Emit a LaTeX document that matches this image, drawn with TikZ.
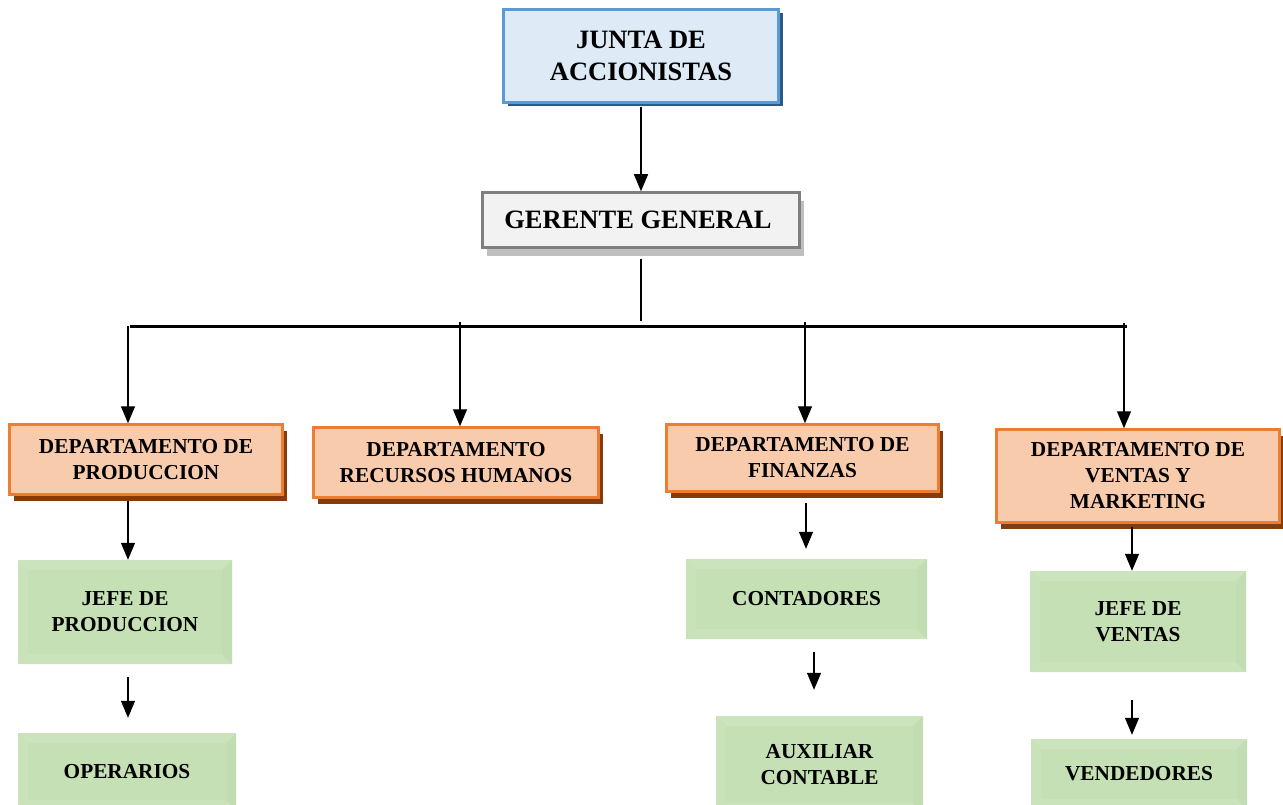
\documentclass[tikz,border=0pt]{standalone}
\usepackage{fontspec}
\setmainfont{Liberation Serif}
\usetikzlibrary{arrows.meta,shadows}
\definecolor{bborder}{HTML}{5B9BD5}
\definecolor{bfill}{HTML}{DEEAF6}
\definecolor{bshadow}{HTML}{2C5A88}
\definecolor{gborder}{HTML}{7F7F7F}
\definecolor{gfillc}{HTML}{F2F2F2}
\definecolor{gshadow}{HTML}{BFBFBF}
\definecolor{oborder}{HTML}{ED7D31}
\definecolor{ofill}{HTML}{F8CBAD}
\definecolor{oshadow}{HTML}{843C0C}
\definecolor{grn}{HTML}{C5E0B4}
\definecolor{grntop}{HTML}{CCE4BD}
\definecolor{grnleft}{HTML}{C9E2B9}
\definecolor{grnbot}{HTML}{CAE3BB}
\definecolor{grnright}{HTML}{C2DDB1}
\begin{document}
\begin{tikzpicture}[x=1pt,y=-1pt,
  bigtxt/.style={font=\fontsize{26.5}{31.8}\selectfont\bfseries, align=center, inner sep=0pt},
  smalltxt/.style={font=\fontsize{21.3}{26}\selectfont\bfseries, align=center, inner sep=0pt},
  juntabox/.style={bigtxt, draw=bborder, line width=2.5pt, fill=bfill,
     drop shadow={shadow xshift=4pt, shadow yshift=-4pt, fill=bshadow, opacity=1}},
  gerbox/.style={bigtxt, draw=gborder, line width=2.5pt, fill=gfillc,
     drop shadow={shadow xshift=4pt, shadow yshift=-9pt, fill=gshadow, opacity=1}},
  deptbox/.style={smalltxt, draw=oborder, line width=2.5pt, fill=ofill,
     drop shadow={shadow xshift=4pt, shadow yshift=-6pt, fill=oshadow, opacity=1}},
  greenbox/.style={smalltxt, fill=grn,
     path picture={
       \coordinate (nw) at (path picture bounding box.north west);
       \coordinate (se) at (path picture bounding box.south east);
       \coordinate (ne) at (path picture bounding box.north east);
       \coordinate (sw) at (path picture bounding box.south west);
       \fill[grntop] (nw) -- (ne) -- ([xshift=-10pt,yshift=-10pt]ne) -- ([xshift=10pt,yshift=-10pt]nw) -- cycle;
       \fill[grnleft] (nw) -- ([xshift=10pt,yshift=-10pt]nw) -- ([xshift=10pt,yshift=10pt]sw) -- (sw) -- cycle;
       \fill[grnbot] (sw) -- ([xshift=10pt,yshift=10pt]sw) -- ([xshift=-10pt,yshift=10pt]se) -- (se) -- cycle;
       \fill[grnright] (ne) -- ([xshift=-10pt,yshift=-10pt]ne) -- ([xshift=-10pt,yshift=10pt]se) -- (se) -- cycle;
       \fill[grn] ([xshift=10pt,yshift=-10pt]nw) rectangle ([xshift=-10pt,yshift=10pt]se);
     }},
  arr/.style={line width=1.3pt, -{Triangle[width=14pt,length=17pt]}},
  plain/.style={line width=1.3pt},
  bus/.style={line width=3pt}
]
\useasboundingbox (0,0) rectangle (1283,805);

% top
\node[juntabox, minimum width=275pt, minimum height=93pt] (junta) at (641,56) {JUNTA DE\\ACCIONISTAS};
\node[gerbox, minimum width=317pt, minimum height=55pt] (ger) at (641,220) {\hspace*{-6pt}GERENTE GENERAL};

% departments
\node[deptbox, minimum width=273pt, minimum height=70pt] (dp) at (146,459.5) {DEPARTAMENTO DE\\PRODUCCION};
\node[deptbox, minimum width=285pt, minimum height=70pt] (rh) at (456,462.5) {DEPARTAMENTO\\RECURSOS HUMANOS};
\node[deptbox, minimum width=272pt, minimum height=67pt] (fin) at (802.5,458) {DEPARTAMENTO DE\\FINANZAS};
\node[deptbox, minimum width=283pt, minimum height=93pt] (vm) at (1138,476) {DEPARTAMENTO DE\\VENTAS Y\\MARKETING};

% green boxes
\node[greenbox, minimum width=214pt, minimum height=104pt] (jp) at (125,612) {JEFE DE\\PRODUCCION};
\node[greenbox, minimum width=218pt, minimum height=77pt] (op) at (127,771.5) {OPERARIOS};
\node[greenbox, minimum width=241pt, minimum height=80pt] (cont) at (806.5,599) {CONTADORES};
\node[greenbox, minimum width=207pt, minimum height=97pt] (aux) at (819.5,764.5) {AUXILIAR\\CONTABLE};
\node[greenbox, minimum width=216pt, minimum height=101pt] (jv) at (1138,621.5) {JEFE DE\\VENTAS};
\node[greenbox, minimum width=216pt, minimum height=70pt] (ven) at (1139,774) {VENDEDORES};

% bus coordinates
\coordinate (g1) at (641,321);
\coordinate (bl) at (130,326);
\coordinate (br) at (1127,326);
\coordinate (b1) at (128,326);
\coordinate (b2) at (460,322);
\coordinate (b3) at (805,322);
\coordinate (b4) at (1124,323);

% connectors
\draw[arr, shorten <=3pt] (junta.south) -- (ger.north);
\draw[plain, shorten <=10pt] (ger.south) -- (g1);
\draw[bus] (bl) -- (br);
\draw[arr] (b1) -- (b1 |- dp.north);
\draw[arr] (b2) -- (b2 |- rh.north);
\draw[arr] (b3) -- (b3 |- fin.north);
\draw[arr] (b4) -- (b4 |- vm.north);

\draw[arr, shorten <=5pt] ([xshift=-18pt]dp.south) -- ([xshift=-18pt]dp.south |- jp.north);
\draw[arr, shorten <=13pt, shorten >=15pt] ([xshift=3pt]jp.south) -- ([xshift=3pt]jp.south |- op.north);
\draw[arr, shorten <=10pt, shorten >=10pt] ([xshift=3.5pt]fin.south) -- ([xshift=3.5pt]fin.south |- cont.north);
\draw[arr, shorten <=13pt, shorten >=26pt] ([xshift=7.5pt]cont.south) -- ([xshift=7.5pt]cont.south |- aux.north);
\draw[arr, shorten <=3pt] ([xshift=-6pt]vm.south) -- ([xshift=-6pt]vm.south |- jv.north);
\draw[arr, shorten <=28pt, shorten >=4pt] ([xshift=-6pt]jv.south) -- ([xshift=-6pt]jv.south |- ven.north);
\end{tikzpicture}
\end{document}
